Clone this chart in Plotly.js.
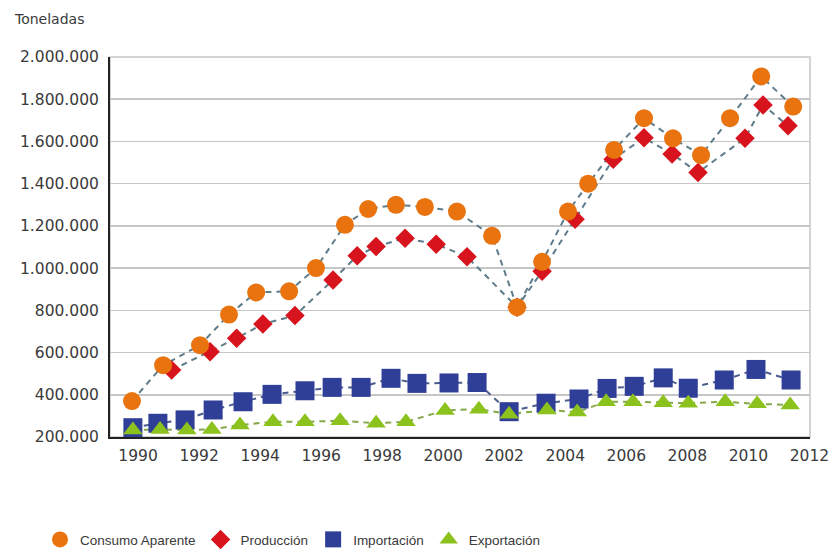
<!DOCTYPE html>
<html>
<head>
<meta charset="utf-8">
<script src="https://cdn.plot.ly/plotly-3.0.1.min.js"></script>
<style>
html,body{margin:0;padding:0;background:#ffffff;}
#chart{width:832px;height:554px;}
</style>
</head>
<body>
<div id="chart"></div>
<script>
// ---- Data (x in years, y in tonnes) ----
const seriesNames = ["Consumo Aparente", "Producción", "Importación", "Exportación"];

const consumoX = [1989.80, 1990.82, 1992.03, 1992.98, 1993.87, 1994.95, 1995.83, 1996.78, 1997.54, 1998.45, 1999.40, 2000.45,
                  2001.60, 2002.42, 2003.24, 2004.09, 2004.75, 2005.60, 2006.58, 2007.53, 2008.45, 2009.40, 2010.42, 2011.47];
const consumoY = [370000, 540000, 635000, 780000, 885000, 890000, 1000000, 1205000, 1280000, 1300000, 1290000, 1268000,
                  1153000, 815000, 1030000, 1268000, 1400000, 1560000, 1710000, 1615000, 1535000, 1710000, 1908000, 1765000];

const produccionX = [1991.10, 1992.36, 1993.23, 1994.09, 1995.14, 1996.39, 1997.18, 1997.80, 1998.75, 1999.77, 2000.78,
                     2002.42, 2003.24, 2004.32, 2005.57, 2006.58, 2007.50, 2008.35, 2009.89, 2010.48, 2011.30];
const produccionY = [517000, 604000, 668000, 735000, 775000, 944000, 1058000, 1102000, 1142000, 1113000, 1054000,
                     815000, 985000, 1232000, 1516000, 1617000, 1541000, 1453000, 1615000, 1773000, 1674000];

const importacionX = [1989.83, 1990.65, 1991.54, 1992.46, 1993.44, 1994.39, 1995.47, 1996.36, 1997.31, 1998.29, 1999.14, 2000.19,
                      2001.11, 2002.16, 2003.37, 2004.45, 2005.37, 2006.26, 2007.21, 2008.03, 2009.21, 2010.25, 2011.40];
const importacionY = [244000, 265000, 281000, 328000, 367000, 402000, 419000, 435000, 435000, 478000, 454000, 456000,
                      458000, 320000, 360000, 380000, 430000, 440000, 480000, 431000, 470000, 520000, 470000];

const exportacionX = [1989.83, 1990.72, 1991.60, 1992.42, 1993.34, 1994.42, 1995.47, 1996.62, 1997.80, 1998.78, 2000.06,
                      2001.17, 2002.16, 2003.40, 2004.39, 2005.34, 2006.22, 2007.21, 2008.03, 2009.24, 2010.29, 2011.37];
const exportacionY = [233000, 236000, 233000, 236000, 257000, 272000, 272000, 277000, 265000, 272000, 326000,
                      332000, 308000, 328000, 318000, 367000, 367000, 362000, 360000, 367000, 357000, 352000];

const tickYears = [1990, 1992, 1994, 1996, 1998, 2000, 2002, 2004, 2006, 2008, 2010, 2012];
const yTicks = [200000, 400000, 600000, 800000, 1000000, 1200000, 1400000, 1600000, 1800000, 2000000];

// ---- Styles ----
const colors = {
  consumo: "#e8730f",
  produccion: "#d7131e",
  importacion: "#2f3e96",
  exportacion: "#8cc21e"
};

function lineTrace(x, y, color) {
  return {
    x: x, y: y, type: "scatter", mode: "lines", showlegend: false, hoverinfo: "skip",
    line: {color: color, width: 2, dash: "6px,5px"}, cliponaxis: false
  };
}
function markerTrace(x, y, name, symbol, size, color, rank) {
  return {
    x: x, y: y, type: "scatter", mode: "markers", name: name, legendrank: rank,
    marker: {symbol: symbol, size: size, color: color, line: {width: 0}},
    cliponaxis: false
  };
}

const traces = [
  lineTrace(importacionX, importacionY, "#4b5d8e"),
  lineTrace(exportacionX, exportacionY, "#86a84a"),
  lineTrace(produccionX, produccionY, "#5e7c8a"),
  lineTrace(consumoX, consumoY, "#5e7c8a"),
  markerTrace(importacionX, importacionY, seriesNames[2], "square", 19, colors.importacion, 3),
  markerTrace(exportacionX, exportacionY, seriesNames[3], "triangle-up", 17, colors.exportacion, 4),
  markerTrace(produccionX, produccionY, seriesNames[1], "diamond", 15, colors.produccion, 2),
  markerTrace(consumoX, consumoY, seriesNames[0], "circle", 18, colors.consumo, 1)
];

const tickFont = {family: "DejaVu Sans, sans-serif", size: 15.5, color: "#3a3a3a"};

const layout = {
  width: 832, height: 554,
  margin: {l: 110, r: 22, t: 57, b: 117, autoexpand: false},
  paper_bgcolor: "#ffffff", plot_bgcolor: "#ffffff",
  separators: ",.",
  showlegend: true,
  title: {
    text: "Toneladas", xref: "container", yref: "container",
    x: 15 / 832, xanchor: "left", y: 1 - 19 / 554, yanchor: "middle",
    font: {family: "DejaVu Sans, sans-serif", size: 14, color: "#3a3a3a"}
  },
  xaxis: {
    range: [1989.08, 2012.02],
    tickmode: "array", tickvals: tickYears, ticktext: tickYears.map(String),
    showgrid: false, zeroline: false,
    showline: true, linecolor: "#222222", linewidth: 2,
    ticks: "", tickfont: tickFont, ticklabelstandoff: 3, fixedrange: true
  },
  yaxis: {
    range: [200000, 2000000],
    tickmode: "array", tickvals: yTicks, tickformat: ",d",
    showgrid: true, gridcolor: "#c6c6c6", gridwidth: 1.5, zeroline: false,
    showline: true, linecolor: "#222222", linewidth: 2,
    ticks: "", tickfont: tickFont, ticklabelstandoff: 6, fixedrange: true
  },
  shapes: [{
    type: "rect", xref: "paper", yref: "paper", x0: 0, x1: 1, y0: 0, y1: 1,
    line: {color: "#c6c6c6", width: 1.5}, layer: "below"
  }],
  legend: {
    orientation: "h", x: -0.1, xanchor: "left", y: -0.27, yanchor: "middle",
    font: {family: "Liberation Sans, Arial, sans-serif", size: 13.5, color: "#3a3a3a"},
    bgcolor: "rgba(0,0,0,0)", itemwidth: 30
  }
};

Plotly.newPlot("chart", traces, layout, {displayModeBar: false, staticPlot: true});
</script>
</body>
</html>
